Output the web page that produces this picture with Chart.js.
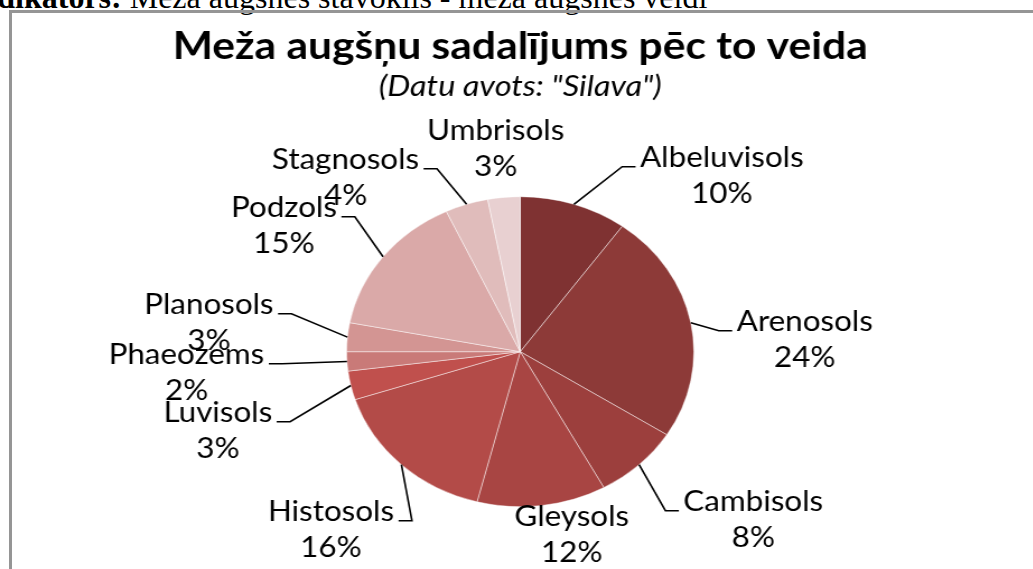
<!DOCTYPE html>
<html>
<head>
<meta charset="utf-8">
<script src="https://cdn.jsdelivr.net/npm/chart.js@4.4.1/dist/chart.umd.min.js"></script>
<style>
  html, body { margin: 0; padding: 0; background: #fff; overflow: hidden; }
  body { width: 1033px; height: 569px; position: relative; }
  #caption { position: absolute; left: -33px; top: -21px; font-family: "Liberation Serif", serif; font-size: 32px; line-height: 36px; white-space: nowrap; color: #000; }
  #frame { position: absolute; left: 9px; top: 10px; width: 1100px; height: 700px; border: 3px solid #959595; }
  #wrap { position: absolute; left: 0; top: 0; width: 923px; height: 569px; transform: scaleX(1.12); transform-origin: 0 0; }
</style>
</head>
<body>
<div id="caption"><b>Indikators:</b> Meža augsnes stāvoklis - meža augsnes veidi</div>
<div id="frame"></div>
<div id="wrap"><canvas id="soil-chart" width="923" height="569"></canvas></div>
<script>
var soilTypes = ["Albeluvisols", "Arenosols", "Cambisols", "Gleysols", "Histosols", "Luvisols",
                 "Phaeozems", "Planosols", "Podzols", "Stagnosols", "Umbrisols"];
var shares = [10, 24, 8, 12, 16, 3, 2, 3, 15, 4, 3];

var sliceColors = ["#7f3232", "#8d3a38", "#9c3f3d", "#a84543", "#b34b48", "#c0504d",
                   "#c97a78", "#d39593", "#daa9a8", "#e0bcbb", "#e8d0d1"];

// label centre offsets from the pie centre (canvas units), and whether a leader line is drawn
var labelSpots = [
  [180, -194, true], [254, -30, true], [208, 150, true], [46, 165, false],
  [-169, 160, true], [-270, 61, true], [-298, 3, true], [-278, -47, true],
  [-211, -144, true], [-156, -192, true], [-22, -221, false]
];

var sliceLabels = {
  id: 'sliceLabels',
  afterDatasetsDraw: function(chart) {
    var ctx = chart.ctx;
    var meta = chart.getDatasetMeta(0);
    var total = shares.reduce(function(a, b) { return a + b; }, 0);
    ctx.save();
    ctx.font = '28px Lato';
    ctx.fillStyle = '#000';
    ctx.strokeStyle = '#000';
    ctx.lineWidth = 1.6;
    ctx.textAlign = 'center';
    ctx.textBaseline = 'middle';
    meta.data.forEach(function(arc, i) {
      var p = arc.getProps(['x', 'y', 'startAngle', 'endAngle', 'outerRadius'], true);
      var mid = (p.startAngle + p.endAngle) / 2;
      var lx = p.x + labelSpots[i][0];
      var ly = p.y + labelSpots[i][1];
      var name = soilTypes[i];
      var pct = Math.round(shares[i] / total * 100) + '%';
      if (labelSpots[i][2]) {
        var w = ctx.measureText(name).width;
        var right = lx > p.x;
        var endX = right ? lx - w / 2 - 4 : lx + w / 2 + 4;
        var elbowX = right ? endX - 12 : endX + 12;
        var lineY = ly + 9;
        ctx.beginPath();
        ctx.moveTo(p.x + Math.cos(mid) * p.outerRadius, p.y + Math.sin(mid) * p.outerRadius);
        ctx.lineTo(elbowX, lineY);
        ctx.lineTo(endX, lineY);
        ctx.stroke();
      }
      ctx.fillText(name, lx, ly);
      ctx.fillText(pct, lx, ly + 36);
    });
    ctx.restore();
  }
};

var ctx = document.getElementById("soil-chart").getContext('2d');
var myChart = new Chart(ctx, {
  type: 'pie',
  data: {
    labels: soilTypes,
    datasets: [{
      data: shares,
      backgroundColor: sliceColors,
      borderColor: 'rgba(255,255,255,0.45)',
      borderWidth: 1
    }]
  },
  options: {
    responsive: false,
    animation: false,
    radius: 155,
    layout: { padding: { left: 66, right: 60, top: 0, bottom: 62 } },
    plugins: {
      legend: { display: false },
      tooltip: { enabled: false },
      title: {
        display: true,
        text: 'Meža augšņu sadalījums pēc to veida',
        color: '#000',
        font: { family: 'Lato', size: 38, weight: 'bold', lineHeight: 1.2 },
        padding: { top: 24, bottom: 0 }
      },
      subtitle: {
        display: true,
        text: '(Datu avots: "Silava")',
        color: '#000',
        font: { family: 'Lato', size: 29, style: 'italic', lineHeight: 1.2 },
        padding: { top: 0, bottom: 92 }
      }
    }
  },
  plugins: [sliceLabels]
});
</script>
</body>
</html>
